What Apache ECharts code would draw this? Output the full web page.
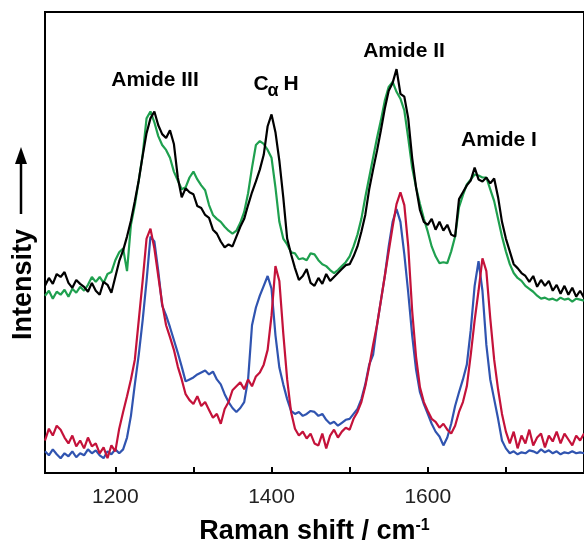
<!DOCTYPE html>
<html>
<head>
<meta charset="utf-8">
<script src="https://cdn.jsdelivr.net/npm/echarts@6/dist/echarts.min.js"></script>
<style>
  html, body { margin: 0; padding: 0; background: #fff; }
  #main { width: 584px; height: 550px; }
</style>
</head>
<body>
<div id="main"></div>
<script>
// spectra are sampled every 5 cm-1 starting at 1110 cm-1
var shiftStart = 1110;
var shiftStep = 5;

var tickShifts = [1200, 1300, 1400, 1500, 1600, 1700];
var labelShifts = [1200, 1400, 1600];

// upper pair of spectra (arbitrary intensity units)
var blackIntensity = [
  190, 198, 192, 202, 199, 204, 193, 188, 196, 192,
  189, 184, 193, 185, 181, 194, 191, 183, 199, 215,
  226, 240, 256, 276, 297, 322, 345, 360, 367, 353,
  344, 340, 348, 334, 300, 280, 289, 285, 283, 271,
  269, 262, 259, 247, 243, 235, 229, 232, 230, 240,
  250, 258, 272, 285, 296, 308, 323, 352, 364, 346,
  317, 280, 238, 222, 208, 196, 200, 207, 193, 190,
  198, 192, 202, 195, 199, 203, 207, 211, 212, 220,
  230, 245, 262, 288, 308, 327, 348, 370, 388, 396,
  410, 385, 382, 360, 320, 290, 267, 255, 252, 258,
  247, 255, 246, 252, 242, 240, 278, 285, 292, 297,
  310, 298, 296, 300, 294, 299, 280, 255, 238, 225,
  212, 208, 203, 200, 194, 200, 189, 196, 190, 195,
  185, 191, 182, 190, 181, 188, 179, 185, 178
];
var greenIntensity = [
  180, 185, 177, 184, 181, 186, 179, 187, 183, 189,
  185, 191, 199, 194, 199, 193, 202, 204, 216, 224,
  228, 205, 252, 272, 297, 323, 360, 367, 356, 342,
  333, 328, 320, 306, 297, 288, 290, 300, 306, 298,
  292, 287, 272, 262, 258, 255, 250, 246, 243, 246,
  254, 265, 284, 310, 333, 337, 334, 328, 320, 290,
  255, 238, 232, 224, 223, 217, 218, 216, 223, 222,
  216, 212, 210, 206, 203, 206, 210, 214, 220, 230,
  242, 258, 280, 300, 320, 340, 358, 378, 392, 397,
  387, 380, 368, 340, 310, 290, 273, 258, 245, 230,
  220, 213, 214, 213, 225, 240, 270, 282, 293, 298,
  303, 302, 300, 300, 288, 276, 258, 240, 225, 212,
  203, 198, 195, 190, 187, 184, 180, 177, 178, 176,
  177, 175, 178, 176, 177, 174, 177, 176, 175
];

// lower pair of spectra
var redIntensity = [
  33, 45, 38, 48, 44, 36, 30, 38, 27, 33,
  25, 36, 27, 30, 20, 26, 15, 28, 22, 45,
  62, 78, 95, 115, 155, 195, 238, 248, 228, 200,
  172, 150, 138, 125, 108, 95, 80, 74, 70, 78,
  68, 72, 64, 56, 60, 50, 65, 72, 84, 88,
  92, 85, 95, 88, 98, 102, 110, 125, 160, 210,
  195, 142, 95, 62, 45, 38, 42, 35, 40, 30,
  28, 40, 25, 38, 44, 36, 42, 46, 44, 55,
  62, 72, 88, 108, 130, 150, 175, 200, 225, 250,
  273, 285, 272, 230, 165, 118, 87, 72, 63, 55,
  52, 46, 50, 44, 40, 48, 62, 72, 88, 120,
  155, 185, 218, 205, 157, 115, 85, 60, 42, 30,
  42, 25, 38, 30, 44, 28, 36, 40, 26, 38,
  32, 42, 30, 40, 34, 28, 38, 33, 40
];
var blueIntensity = [
  22, 18, 24, 19, 15, 20, 17, 22, 16, 20,
  18, 24, 20, 23, 18, 15, 22, 19, 24, 20,
  24, 36, 58, 90, 120, 155, 195, 240, 235, 205,
  170, 160, 148, 135, 122, 108, 93, 95, 97, 100,
  102, 104, 100, 103, 95, 90, 80, 72, 66, 62,
  66, 72, 95, 150, 168, 180, 190, 200, 187, 140,
  107, 90, 75, 63, 60, 62, 58, 60, 63, 62,
  58, 60, 54, 50, 52, 48, 51, 54, 55, 60,
  65, 75, 90, 110, 120, 150, 175, 200, 230, 255,
  268, 255, 222, 183, 140, 105, 82, 70, 60, 50,
  42, 37, 28, 36, 50, 68, 82, 95, 110, 145,
  190, 215, 185, 130, 95, 75, 55, 33, 25, 20,
  22, 19, 21, 20, 23, 22, 20, 24, 21, 23,
  20, 22, 19, 21, 20, 22, 20, 21, 20
];

function toPairs(values) {
  return values.map(function (v, i) {
    return [shiftStart + i * shiftStep, v];
  });
}

function spectrum(name, values, color) {
  return {
    name: name,
    type: 'line',
    data: toPairs(values),
    showSymbol: false,
    silent: true,
    lineStyle: { color: color, width: 2.2 },
    itemStyle: { color: color }
  };
}

var font = 'Liberation Sans, Arial, Helvetica, sans-serif';

function label(text, x, y, size) {
  return {
    type: 'text',
    x: x,
    y: y,
    style: {
      text: text,
      fill: '#000',
      font: 'bold ' + size + 'px ' + font,
      align: 'center',
      verticalAlign: 'middle',
      textAlign: 'center',
      textVerticalAlign: 'middle'
    }
  };
}

var chart = echarts.init(document.getElementById('main'));
chart.setOption({
  animation: false,
  backgroundColor: '#fff',
  textStyle: { fontFamily: font },
  // the plot frame runs past the right edge of the picture, so no right border shows
  grid: {
    left: 45, top: 12, width: 545, height: 468,
    show: true, borderColor: '#000', borderWidth: 2
  },
  xAxis: {
    type: 'value',
    min: 1110,
    max: 1800,
    axisLine: { lineStyle: { color: '#000', width: 2 } },
    axisTick: {
      inside: true, length: 6, customValues: tickShifts,
      lineStyle: { color: '#000', width: 2 }
    },
    axisLabel: {
      customValues: labelShifts, fontSize: 21, color: '#222', margin: 14,
      formatter: function (v) { return String(v); }
    },
    splitLine: { show: false },
    name: '{t|Raman shift / cm}{s|-1}',
    nameLocation: 'middle',
    nameGap: 45,
    nameTextStyle: {
      rich: {
        t: { fontSize: 27, fontWeight: 'bold', color: '#000', fontFamily: font },
        s: { fontSize: 16, fontWeight: 'bold', color: '#000', fontFamily: font, verticalAlign: 'top' }
      }
    }
  },
  yAxis: {
    type: 'value',
    min: 0,
    max: 468,
    axisLine: { show: true, lineStyle: { color: '#000', width: 2 } },
    axisTick: { show: false },
    axisLabel: { show: false },
    splitLine: { show: false },
    name: 'Intensity',
    nameLocation: 'middle',
    nameRotate: 90,
    nameGap: 8,
    nameTextStyle: {
      fontSize: 27, fontWeight: 'bold', color: '#000',
      padding: [0, 84, 0, 0]
    }
  },
  graphic: [
    // arrow next to the intensity label
    { type: 'line', shape: { x1: 21, y1: 214, x2: 21, y2: 160 }, style: { stroke: '#000', lineWidth: 2.5 } },
    { type: 'polygon', shape: { points: [[21, 147], [15, 164], [27, 164]] }, style: { fill: '#000' } },
    label('Amide III', 155, 80, 21),
    label('C', 261, 84, 21),
    label('α', 273, 91, 18),
    label('H', 291, 84, 21),
    label('Amide II', 404, 51, 21),
    label('Amide I', 499, 140, 21)
  ],
  series: [
    spectrum('green', greenIntensity, '#1fa04f'),
    spectrum('black', blackIntensity, '#000000'),
    spectrum('blue', blueIntensity, '#3054b0'),
    spectrum('red', redIntensity, '#c4123a')
  ]
});
</script>
</body>
</html>
